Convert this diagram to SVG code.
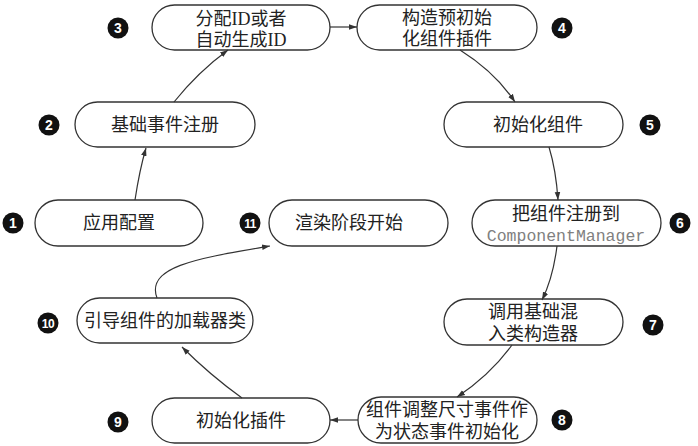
<svg xmlns="http://www.w3.org/2000/svg" width="698" height="446" viewBox="0 0 698 446">
<defs>
<style>
.node rect{fill:#fff;stroke:#333;stroke-width:1.3}
.t{font-family:"Liberation Serif","Noto Sans CJK SC",serif;font-size:18px;fill:#222;text-anchor:middle}
.m{font-family:"Liberation Mono",monospace;font-size:16.5px;fill:#808080;text-anchor:middle}
.b circle{fill:#111}
.b text{font-family:"Liberation Sans",Arial,sans-serif;font-size:14px;font-weight:bold;fill:#fff;text-anchor:middle}
.c path{fill:none;stroke:#333;stroke-width:1.2;marker-end:url(#ah)}
</style>
<marker id="ah" viewBox="0 0 10 10" refX="10" refY="5" markerWidth="8" markerHeight="8" markerUnits="userSpaceOnUse" orient="auto">
<path d="M0,1.5 L10,5 L0,8.5 Z" fill="#333"/>
</marker>
</defs>
<rect width="698" height="446" fill="#fff"/>
<g id="n1" class="node"><rect x="35" y="200" width="168" height="46" rx="23"/><text class="t" x="119" y="229">应用配置</text></g>
<g id="n2" class="node"><rect x="75" y="102" width="180" height="45" rx="22.5"/><text class="t" x="165" y="131">基础事件注册</text></g>
<g id="n3" class="node"><rect x="152" y="5" width="178" height="45" rx="22.5"/><text class="t" x="241" y="25">分配ID或者</text><text class="t" x="241" y="46">自动生成ID</text></g>
<g id="n4" class="node"><rect x="357" y="5" width="180" height="45" rx="22.5"/><text class="t" x="447" y="24">构造预初始</text><text class="t" x="447" y="45">化组件插件</text></g>
<g id="n5" class="node"><rect x="444" y="102" width="179" height="45" rx="22.5"/><text class="t" x="538" y="131">初始化组件</text></g>
<g id="n6" class="node"><rect x="472" y="200" width="189" height="46" rx="23"/><text class="t" x="566" y="220">把组件注册到</text><text class="m" x="566" y="241">ComponentManager</text></g>
<g id="n7" class="node"><rect x="444" y="299" width="179" height="46" rx="23"/><text class="t" x="533" y="318">调用基础混</text><text class="t" x="533" y="340">入类构造器</text></g>
<g id="n8" class="node"><rect x="358" y="397" width="179" height="46" rx="23"/><text class="t" x="447" y="416">组件调整尺寸事件作</text><text class="t" x="447" y="438">为状态事件初始化</text></g>
<g id="n9" class="node"><rect x="152" y="398" width="178" height="45" rx="22.5"/><text class="t" x="241" y="427">初始化插件</text></g>
<g id="n10" class="node"><rect x="77" y="298" width="176" height="45" rx="22.5"/><text class="t" x="165" y="327">引导组件的加载器类</text></g>
<g id="n11" class="node"><rect x="269" y="200" width="179" height="46" rx="23"/><text class="t" x="349" y="229">渲染阶段开始</text></g>
<g id="badges" class="b">
<circle cx="13" cy="223" r="10.5"/><text x="13" y="228">1</text>
<circle cx="49" cy="125" r="10.5"/><text x="49" y="130">2</text>
<circle cx="118" cy="28" r="10.5"/><text x="118" y="33">3</text>
<circle cx="562" cy="28" r="10.5"/><text x="562" y="33">4</text>
<circle cx="650" cy="125" r="10.5"/><text x="650" y="130">5</text>
<circle cx="680" cy="223" r="10.5"/><text x="680" y="228">6</text>
<circle cx="653" cy="325" r="10.5"/><text x="653" y="330">7</text>
<circle cx="562" cy="420" r="10.5"/><text x="562" y="425">8</text>
<circle cx="118" cy="422" r="10.5"/><text x="118" y="427">9</text>
<circle cx="48" cy="323" r="10.5"/><text x="48" y="327.5" style="font-size:12px;letter-spacing:-0.5px">10</text>
<circle cx="250" cy="223" r="10.5"/><text x="250" y="227.5" style="font-size:12px;letter-spacing:-0.5px">11</text>
</g>
<g id="connectors" class="c">
<path d="M135,200 C138,180 141,165 146,148"/>
<path d="M174,102 Q198,72 228,50"/>
<path d="M330,27 L357,27"/>
<path d="M460,50 Q495,72 515,102"/>
<path d="M549,147 Q556,170 558,200"/>
<path d="M557,246 Q553,278 542,300"/>
<path d="M512,345 Q490,375 457,397"/>
<path d="M358,420 L330,420"/>
<path d="M242,398 Q210,375 182,347"/>
<path d="M157,298 C145,266 200,258 270,246"/>
</g>
</svg>
